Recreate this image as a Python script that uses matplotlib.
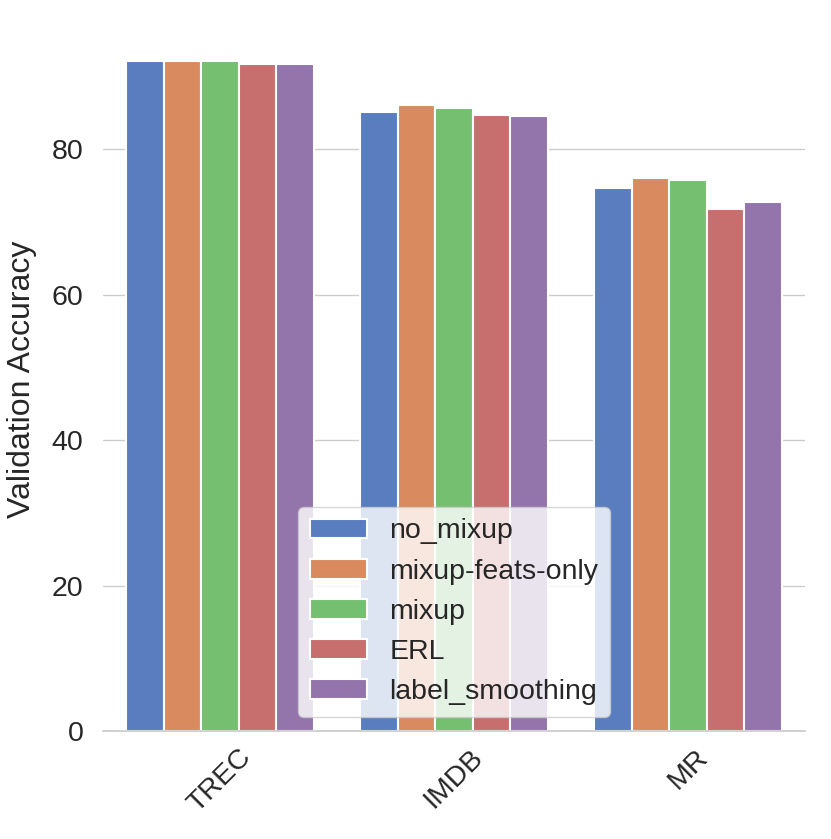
import numpy as np
import pandas as pd
import matplotlib
matplotlib.use("Agg")
import matplotlib.pyplot as plt
import seaborn as sns

datasets = ["TREC", "IMDB", "MR"]
methods = ["no_mixup", "mixup-feats-only", "mixup", "ERL", "label_smoothing"]
trec = [92.1, 92.1, 92.1, 91.7, 91.7]
imdb = [85.1, 86.1, 85.7, 84.7, 84.6]
mr = [74.7, 76.0, 75.7, 71.7, 72.7]

rows = []
for ds, vals in zip(datasets, [trec, imdb, mr]):
    for m, v in zip(methods, vals):
        rows.append({"dataset": ds, "method": m, "acc": v})
df = pd.DataFrame(rows)

sns.set_theme(style="whitegrid", palette="muted")
plt.rcParams["font.family"] = ["Liberation Sans", "DejaVu Sans"]

fig = plt.figure(figsize=(8.31, 8.39), dpi=100)
ax = fig.add_axes([103 / 831, (839 - 731) / 839, 702 / 831, 703.5 / 839])
sns.barplot(data=df, x="dataset", y="acc", hue="method", ax=ax,
            palette="muted", edgecolor="white", linewidth=1.5)
sns.despine(left=True)

ax.set_xlabel("")
ax.set_ylabel("Validation Accuracy", fontsize=23)
ax.yaxis.set_label_coords(-0.094, 0.5)
ax.tick_params(axis="y", labelsize=20.5, pad=8)
ax.tick_params(axis="x", labelsize=20.5)
plt.setp(ax.get_xticklabels(), rotation=45)
ax.legend(loc="lower center", fontsize=20.5)

fig.savefig("out.png", dpi=100)
